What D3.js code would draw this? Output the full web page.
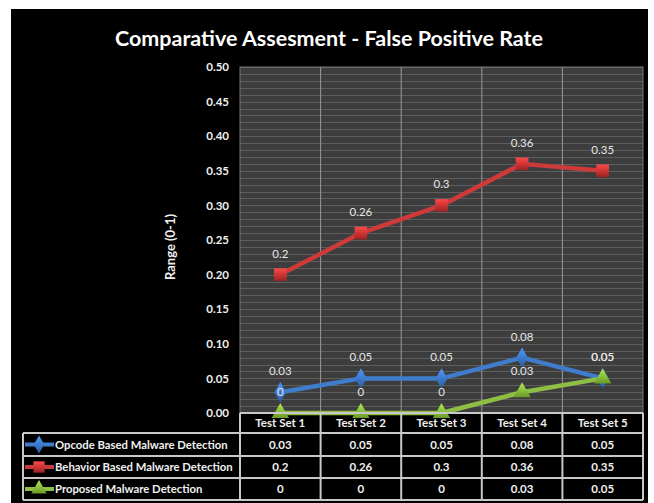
<!DOCTYPE html>
<html>
<head>
<meta charset="utf-8">
<script src="https://cdn.jsdelivr.net/npm/d3@7"></script>
<style>
  html, body { margin: 0; padding: 0; background: #fff; }
  svg { display: block; }
  text { font-family: Lato, "Open Sans", sans-serif; }
</style>
</head>
<body>
<svg id="chart" width="654" height="503"></svg>
<script>
const categories = ["Test Set 1", "Test Set 2", "Test Set 3", "Test Set 4", "Test Set 5"];
const seriesNames = ["Opcode Based Malware Detection", "Behavior Based Malware Detection", "Proposed Malware Detection"];
const opcodeValues = [0.03, 0.05, 0.05, 0.08, 0.05];
const behaviorValues = [0.2, 0.26, 0.3, 0.36, 0.35];
const proposedValues = [0, 0, 0, 0.03, 0.05];
const yTicks = [0, 0.05, 0.10, 0.15, 0.20, 0.25, 0.30, 0.35, 0.40, 0.45, 0.50];
const titleText = "Comparative Assesment - False Positive Rate";
const yTitle = "Range (0-1)";

const series = [
  { name: seriesNames[0], values: opcodeValues, color: "#3f7ccc", dark: "#2a5a9e", symbol: d3.symbolDiamond, size: 120 },
  { name: seriesNames[1], values: behaviorValues, color: "#cc3a3a", dark: "#9e2222", symbol: d3.symbolSquare, size: 160 },
  { name: seriesNames[2], values: proposedValues, color: "#8fbe45", dark: "#6a9a28", symbol: d3.symbolTriangle, size: 130 }
];

const svg = d3.select("#chart");
const W = 654, H = 503;

// black background panel
svg.append("rect").attr("x", 11).attr("y", 9).attr("width", 637).attr("height", H - 9).attr("fill", "#000");

const plotL = 240, plotR = 643, plotT = 67, plotB = 413;
const x = d3.scaleBand().domain(categories).range([plotL, plotR]);
const y = d3.scaleLinear().domain([0, 0.5]).range([plotB, plotT]);

// gradients for markers
const defs = svg.append("defs");
series.forEach((s, i) => {
  const g = defs.append("linearGradient").attr("id", "grad" + i).attr("x1", 0).attr("y1", 0).attr("x2", 0).attr("y2", 1);
  g.append("stop").attr("offset", "0%").attr("stop-color", d3.color(s.color).brighter(0.6));
  g.append("stop").attr("offset", "100%").attr("stop-color", s.dark);
});

// plot background
svg.append("rect").attr("x", plotL).attr("y", plotT).attr("width", plotR - plotL).attr("height", plotB - plotT).attr("fill", "#3d3d3d");

// minor horizontal gridlines
svg.append("g").selectAll("line").data(y.ticks(50)).join("line")
  .attr("x1", plotL).attr("x2", plotR)
  .attr("y1", d => Math.round(y(d)) + 0.5).attr("y2", d => Math.round(y(d)) + 0.5)
  .attr("stroke", "#5e5e5e").attr("stroke-width", 1);

// vertical gridlines
svg.append("g").selectAll("line").data(categories.slice(1)).join("line")
  .attr("x1", d => x(d)).attr("x2", d => x(d))
  .attr("y1", plotT).attr("y2", plotB)
  .attr("stroke", "#9a9a9a").attr("stroke-width", 1);

// plot border
svg.append("rect").attr("x", plotL).attr("y", plotT).attr("width", plotR - plotL).attr("height", plotB - plotT)
  .attr("fill", "none").attr("stroke", "#777").attr("stroke-width", 1);

// y axis
const yAxis = d3.axisLeft(y).tickValues(yTicks).tickFormat(d3.format(".2f")).tickSize(0).tickPadding(11);
const yg = svg.append("g").attr("transform", `translate(${plotL},0)`).call(yAxis);
yg.select(".domain").remove();
yg.selectAll("text").attr("fill", "#f0f0f0").attr("font-size", "11.5px").attr("font-weight", "bold")
  .style("font-family", "Lato, 'Open Sans', sans-serif");

// y title
svg.append("text").attr("transform", "translate(175,247) rotate(-90)")
  .attr("text-anchor", "middle").attr("fill", "#f0f0f0").attr("font-size", "13px").attr("font-weight", "bold")
  .text(yTitle);

// title
svg.append("text").attr("x", 329).attr("y", 46).attr("text-anchor", "middle")
  .attr("fill", "#fff").attr("font-size", "21px").attr("font-weight", "bold")
  .attr("textLength", 428).attr("lengthAdjust", "spacingAndGlyphs")
  .text(titleText);

// lines
const line = d3.line().x((d, i) => x(categories[i]) + x.bandwidth() / 2).y(d => y(d));
series.forEach(s => {
  svg.append("path").datum(s.values).attr("d", line)
    .attr("fill", "none").attr("stroke", s.color).attr("stroke-width", 4.5).attr("stroke-linejoin", "round");
});
// markers
series.forEach((s, i) => {
  svg.append("g").selectAll("path").data(s.values).join("path")
    .attr("transform", (d, j) => `translate(${x(categories[j]) + x.bandwidth() / 2},${y(d)})`)
    .attr("d", d3.symbol().type(s.symbol).size(s.size))
    .attr("fill", `url(#grad${i})`);
});
// data labels
series.forEach(s => {
  svg.append("g").selectAll("text").data(s.values).join("text")
    .attr("x", (d, j) => x(categories[j]) + x.bandwidth() / 2)
    .attr("y", d => y(d) - 17)
    .attr("text-anchor", "middle").attr("fill", "#e6e6e6").attr("font-size", "11.5px")
    .text(d => String(d));
});

// table
const rowTops = [413, 433, 456, 478, 500];
const tableStroke = "#c8c8c8";
const tg = svg.append("g");
tg.selectAll("text.hdr").data(categories).join("text").attr("class", "hdr")
  .attr("x", d => x(d) + x.bandwidth() / 2).attr("y", 427)
  .attr("text-anchor", "middle").attr("fill", "#f0f0f0").attr("font-size", "11.5px").attr("font-weight", "bold")
  .text(d => d);
tg.append("line").attr("x1", plotL).attr("x2", plotR).attr("y1", rowTops[0]).attr("y2", rowTops[0])
  .attr("stroke", tableStroke).attr("stroke-width", 2);
rowTops.slice(1).forEach(ry => {
  tg.append("line").attr("x1", 23).attr("x2", plotR).attr("y1", ry).attr("y2", ry)
    .attr("stroke", tableStroke).attr("stroke-width", 2);
});
[plotL].concat(categories.slice(1).map(c => x(c))).concat([plotR]).forEach(vx => {
  tg.append("line").attr("x1", vx).attr("x2", vx).attr("y1", rowTops[0]).attr("y2", rowTops[4])
    .attr("stroke", tableStroke).attr("stroke-width", 2);
});
tg.append("line").attr("x1", 23).attr("x2", 23).attr("y1", rowTops[1]).attr("y2", rowTops[4])
  .attr("stroke", tableStroke).attr("stroke-width", 2);

series.forEach((s, i) => {
  const cy = (rowTops[i + 1] + rowTops[i + 2]) / 2;
  tg.append("line").attr("x1", 25).attr("x2", 54).attr("y1", cy).attr("y2", cy)
    .attr("stroke", s.color).attr("stroke-width", 4);
  tg.append("path").attr("transform", `translate(39,${cy})`)
    .attr("d", d3.symbol().type(s.symbol).size(s.size * 0.8)).attr("fill", `url(#grad${i})`);
  tg.append("text").attr("x", 55).attr("y", cy + 4).attr("fill", "#f0f0f0")
    .attr("font-size", "11.3px").attr("font-weight", "bold").text(s.name);
  tg.selectAll(null).data(s.values).join("text")
    .attr("x", (d, j) => x(categories[j]) + x.bandwidth() / 2).attr("y", cy + 4)
    .attr("text-anchor", "middle").attr("fill", "#f0f0f0").attr("font-size", "11.5px").attr("font-weight", "bold")
    .text(d => String(d));
});
</script>
</body>
</html>
